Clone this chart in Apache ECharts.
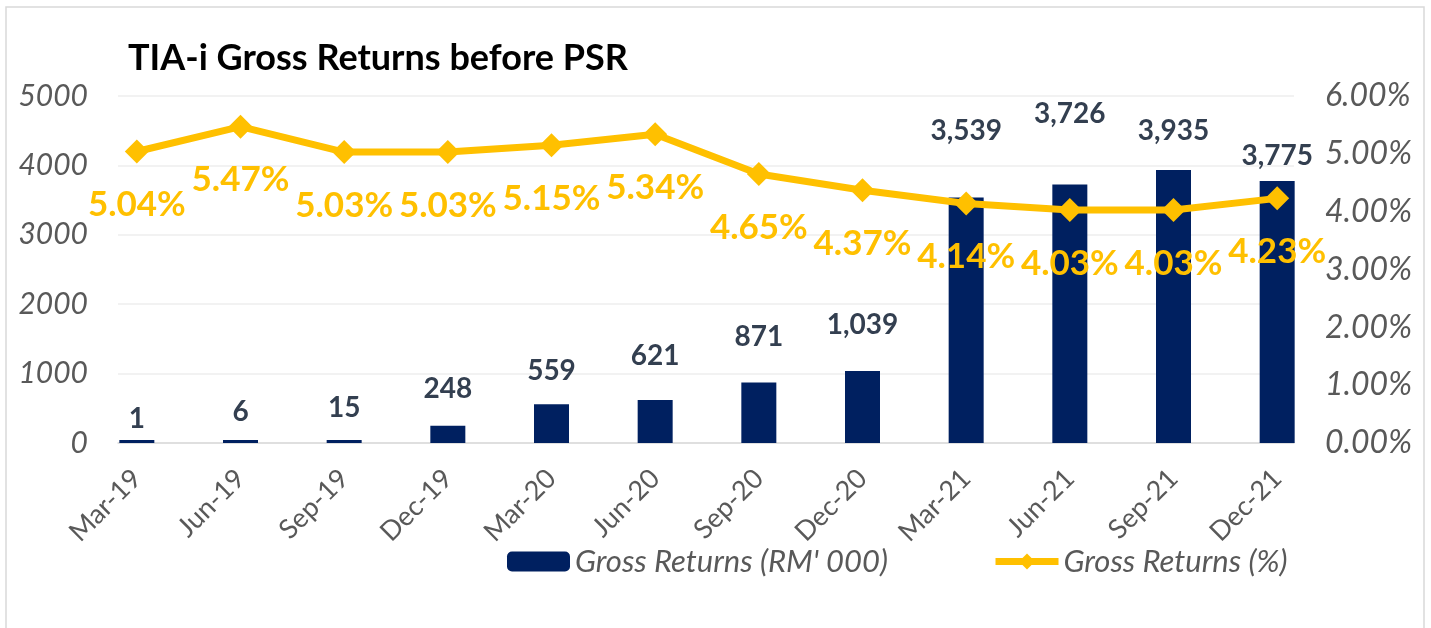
<!DOCTYPE html>
<html>
<head>
<meta charset="utf-8">
<script src="https://cdn.jsdelivr.net/npm/echarts@6/dist/echarts.min.js"></script>
<style>
html,body{margin:0;padding:0;background:#fff;}
#c{width:1431px;height:628px;}
</style>
</head>
<body>
<div id="c"></div>
<script>
const categories = ['Mar-19','Jun-19','Sep-19','Dec-19','Mar-20','Jun-20','Sep-20','Dec-20','Mar-21','Jun-21','Sep-21','Dec-21'];
const grossReturnsRM = [1, 6, 15, 248, 559, 621, 871, 1039, 3539, 3726, 3935, 3775];
const grossReturnsPct = [5.04, 5.47, 5.03, 5.03, 5.15, 5.34, 4.65, 4.37, 4.14, 4.03, 4.03, 4.23];
const leftTicks = [0, 1000, 2000, 3000, 4000, 5000];
const rightTicks = [0, 1, 2, 3, 4, 5, 6];

// label lift above bar tops (layout only)
const barLabelLift = [7, 14, 18, 23, 19, 30, 32, 32, 52, 56, 25, 11];

const FONT = 'Lato';
const chart = echarts.init(document.getElementById('c'));

const barData = grossReturnsRM.map((v, i) => ({
  value: v,
  label: { distance: barLabelLift[i] }
}));

chart.setOption({
  animation: false,
  textStyle: { fontFamily: FONT },
  title: {
    text: 'TIA-i Gross Returns before PSR',
    left: 123, top: 35,
    textStyle: { fontFamily: FONT, fontWeight: 'bold', fontSize: 36, color: '#000' }
  },
  graphic: [{
    type: 'rect', silent: true, z: -10,
    shape: { x: 6, y: 7, width: 1418, height: 640 },
    style: { fill: 'none', stroke: '#D9D9D9', lineWidth: 1.5 }
  }],
  legend: {
    left: 502, top: 541,
    itemGap: 104,
    itemWidth: 63, itemHeight: 20,
    textStyle: { fontFamily: FONT, fontStyle: 'italic', fontSize: 31, color: '#595959' },
    data: [
      { name: 'Gross Returns (RM\' 000)' },
      { name: 'Gross Returns (%)', lineStyle: { width: 7, color: '#FFC000' } }
    ]
  },
  grid: [
    { left: 85, right: 102, top: 96, bottom: 185 },
    { left: 118, right: 137, top: 96, bottom: 185 }
  ],
  xAxis: [
    {
      type: 'category', gridIndex: 0, data: categories,
      axisLine: { show: false }, axisTick: { show: false },
      axisLabel: { rotate: 45, margin: 31, fontFamily: FONT, fontSize: 27, color: '#595959' }
    },
    {
      type: 'value', gridIndex: 1, min: 0, max: 1,
      axisLine: { show: true, lineStyle: { color: '#D9D9D9', width: 1.5 } },
      axisTick: { show: false }, axisLabel: { show: false }, splitLine: { show: false }
    }
  ],
  yAxis: [
    { type: 'value', gridIndex: 0, min: 0, max: 5000, show: false, splitLine: { show: false } },
    { type: 'value', gridIndex: 0, min: 0, max: 6, show: false, splitLine: { show: false } },
    {
      type: 'value', gridIndex: 1, position: 'left',
      min: leftTicks[0], max: leftTicks[leftTicks.length - 1], interval: 1000,
      axisLine: { show: false }, axisTick: { show: false },
      axisLabel: { margin: 30, fontFamily: FONT, fontStyle: 'italic', fontSize: 30, color: '#595959',
        formatter: v => String(v) },
      splitLine: { show: true, lineStyle: { color: '#EEEEEE', width: 1.5 } }
    },
    {
      type: 'value', gridIndex: 1, position: 'right',
      min: rightTicks[0], max: rightTicks[rightTicks.length - 1], interval: 1,
      axisLine: { show: false }, axisTick: { show: false },
      axisLabel: {
        margin: 31, fontFamily: FONT, fontStyle: 'italic', fontSize: 32, color: '#595959',
        formatter: v => v.toFixed(2) + '%'
      },
      splitLine: { show: false }
    }
  ],
  series: [
    {
      name: 'Gross Returns (RM\' 000)',
      type: 'bar', xAxisIndex: 0, yAxisIndex: 0,
      data: barData,
      barWidth: 35, barMinHeight: 3,
      itemStyle: { color: '#002060' },
      label: {
        show: true, position: 'top',
        fontFamily: FONT, fontWeight: 'bold', fontSize: 28, color: '#333F50',
        formatter: p => p.value.toLocaleString('en-US')
      },
      z: 2
    },
    {
      name: 'Gross Returns (%)',
      type: 'line', xAxisIndex: 0, yAxisIndex: 1,
      data: grossReturnsPct,
      symbol: 'diamond', symbolSize: 24,
      lineStyle: { color: '#FFC000', width: 7 },
      itemStyle: { color: '#FFC000' },
      label: {
        show: true, position: 'bottom', distance: 24,
        fontFamily: FONT, fontWeight: 'bold', fontSize: 35, color: '#FFC000',
        formatter: p => p.value.toFixed(2) + '%'
      },
      z: 3
    }
  ]
});
</script>
</body>
</html>
